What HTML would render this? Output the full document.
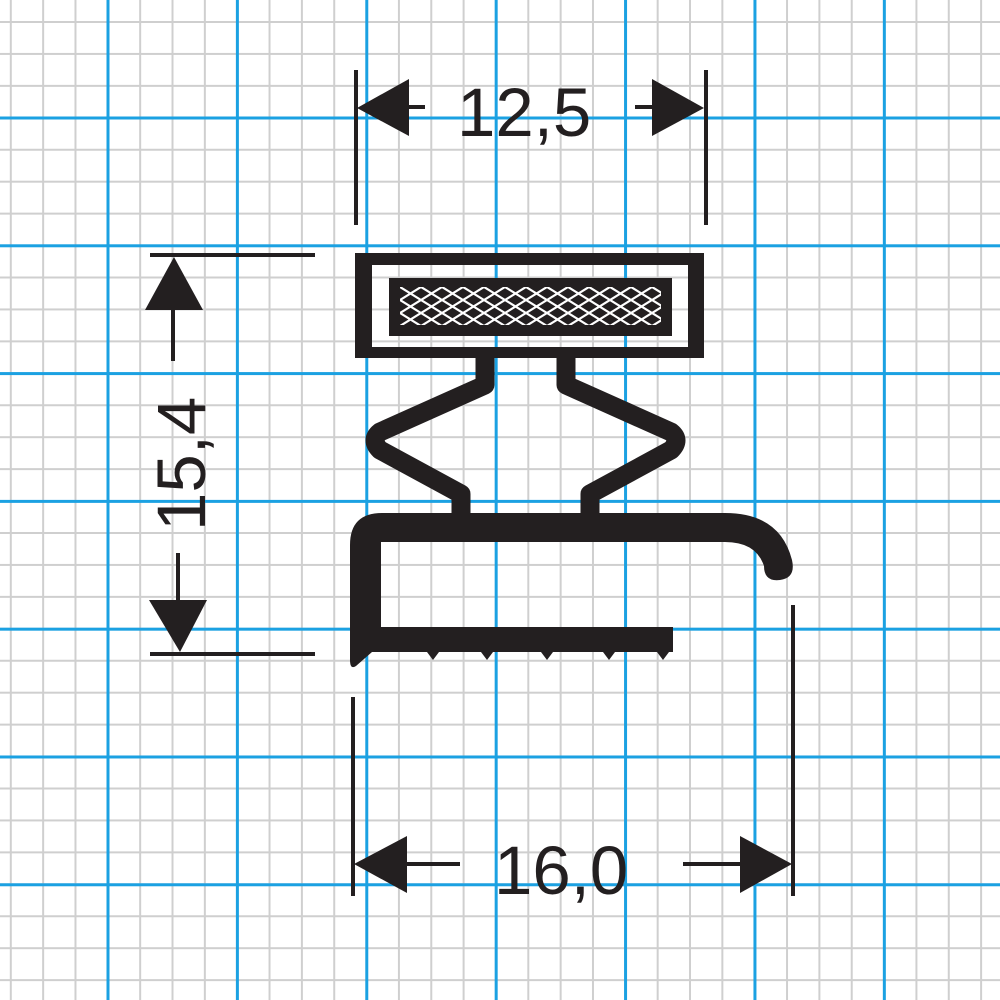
<!DOCTYPE html>
<html><head><meta charset="utf-8"><style>
html,body{margin:0;padding:0}
body{width:1000px;height:1000px;position:relative;overflow:hidden;background:#fff;
background-image:
linear-gradient(to right,#1ba1e2 0,#1ba1e2 3px,transparent 3px),
linear-gradient(to bottom,#1ba1e2 0,#1ba1e2 3px,transparent 3px),
linear-gradient(to right,#cfcfcf 0,#cfcfcf 2px,transparent 2px),
linear-gradient(to bottom,#cfcfcf 0,#cfcfcf 2px,transparent 2px);
background-size:129.4px 100%,100% 127.8px,32.35px 100%,100% 31.95px;
background-position:106.5px 0,0 116.5px,9.8px 0,0 21px;}
svg{position:absolute;left:0;top:0}
text{font-family:"Liberation Sans",sans-serif;fill:#231f20}
</style></head><body>
<svg width="1000" height="1000" viewBox="0 0 1000 1000">
<defs>
<pattern id="mesh" width="21" height="13" patternUnits="userSpaceOnUse" x="400" y="287">
<rect width="21" height="13" fill="#231f20"/>
<path d="M0,0 L21,13 M0,13 L21,0 M-10.5,6.5 L0,13 M10.5,-6.5 L21,0" stroke="#fff" stroke-width="2.2"/>
</pattern>
</defs>
<g fill="#231f20" stroke="none">
<!-- top box -->
<path d="M355,253 H704 V358 H355 Z M372,265 V347 H688 V265 Z" fill-rule="evenodd"/>
<rect x="389" y="278" width="283" height="58"/>
<rect x="400" y="287" width="261" height="38" fill="url(#mesh)"/>
</g>
<g fill="none" stroke="#231f20" stroke-width="19" stroke-linejoin="round">
<path d="M485,356 L485,385 L380,432 Q370,440 380,450 L461,494 L461,518"/>
<path d="M566,356 L566,385 L671,432 Q681,440 671,450 L590,494 L590,518"/>
</g>
<!-- bottom profile -->
<g fill="#231f20">
<path d="M350,545 Q350,513 382,513 L725,513 Q780,513 792,560 Q796,578 780,580 Q764,582 764,566 Q756,542 725,542 L381,542 L381,627 L673,627 L673,652 L372,652 L356,666 Q350,670 350,660 Z"/>
<path d="M427,652 L433,660 L439,652 Z M481,652 L487,660 L493,652 Z M541,652 L547,660 L553,652 Z M603,652 L609,660 L615,652 Z M657,652 L663,660 L669,652 Z"/>
</g>
<!-- dimension 12,5 -->
<g stroke="#231f20" stroke-width="4" fill="none">
<line x1="356" y1="70" x2="356" y2="225"/>
<line x1="706" y1="70" x2="706" y2="225"/>
<line x1="405" y1="107" x2="425" y2="107"/>
<line x1="635" y1="107" x2="655" y2="107"/>
<line x1="150" y1="255" x2="315" y2="255"/>
<line x1="150" y1="654" x2="315" y2="654"/>
<line x1="173" y1="305" x2="173" y2="361"/>
<line x1="178" y1="553" x2="178" y2="605"/>
<line x1="353" y1="697" x2="353" y2="896"/>
<line x1="793" y1="605" x2="793" y2="896"/>
<line x1="403" y1="864" x2="460" y2="864"/>
<line x1="683" y1="864" x2="745" y2="864"/>
</g>
<g fill="#231f20">
<path d="M357,108 L409,79 L409,136 Z"/>
<path d="M704,108 L652,79 L652,136 Z"/>
<path d="M174,257 L145,310 L203,310 Z"/>
<path d="M180,652 L149,600 L207,600 Z"/>
<path d="M354,864 L407,836 L407,893 Z"/>
<path d="M792,864 L740,836 L740,893 Z"/>
</g>
<text x="457" y="136" font-size="69">12,5</text>
<text x="494" y="894" font-size="69">16,0</text>
<text transform="translate(205,531) rotate(-90)" font-size="69">15,4</text>
</svg>
</body></html>
